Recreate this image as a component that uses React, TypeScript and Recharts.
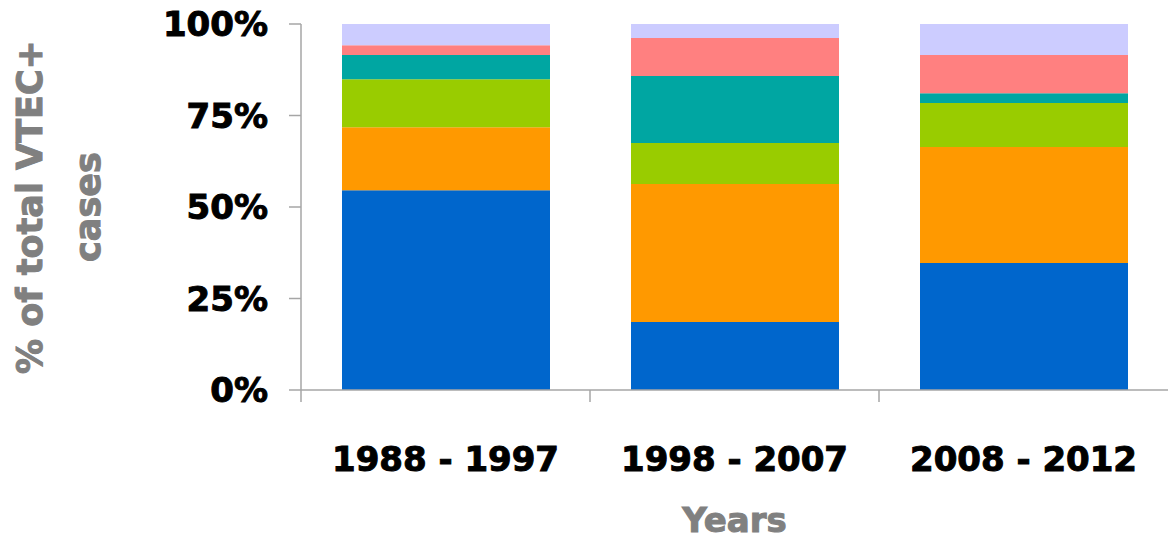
import React from "react";
import { Bar, BarChart, Label, XAxis, YAxis } from "recharts";

// share of cases per period, bottom to top of each stack (%)
const periods = ["1988 - 1997", "1998 - 2007", "2008 - 2012"];
const blueShare = [54.6, 18.6, 34.7];
const orangeShare = [17.2, 37.7, 31.7];
const greenShare = [13.1, 11.2, 12.0];
const tealShare = [6.6, 18.3, 2.7];
const pinkShare = [2.7, 10.4, 10.4];
const lilacShare = [5.8, 3.8, 8.5];
const yTicks = [0, 25, 50, 75, 100];

const chartData = periods.map((period, i) => ({
  period,
  blue: blueShare[i],
  orange: orangeShare[i],
  green: greenShare[i],
  teal: tealShare[i],
  pink: pinkShare[i],
  lilac: lilacShare[i],
}));

const series = [
  { key: "blue", color: "#0066CC" },
  { key: "orange", color: "#FF9900" },
  { key: "green", color: "#99CC00" },
  { key: "teal", color: "#00A6A2" },
  { key: "pink", color: "#FF8080" },
  { key: "lilac", color: "#CCCCFF" },
];

const FONT = "'DejaVu Sans', sans-serif";
const AXIS = "#a6a6a6";

const XTick = (props: any) => {
  const { x, y, payload, width, visibleTicksCount } = props;
  const band = width && visibleTicksCount ? width / visibleTicksCount : 289;
  const left = x - band / 2;
  return (
    <g>
      <line x1={left} x2={left} y1={y} y2={y + 12} stroke={AXIS} strokeWidth={1.5} />
      <text
        x={x}
        y={y + 81}
        textAnchor="middle"
        fill="#000"
        stroke="#000"
        strokeWidth={1}
        fontSize={34}
        fontWeight="bold"
        fontFamily={FONT}
      >
        {payload.value}
      </text>
    </g>
  );
};

const YTitle = (props: any) => {
  const { viewBox } = props;
  const cy = viewBox.y + viewBox.height / 2;
  return (
    <g fill="#808080" stroke="#808080" strokeWidth={1} fontSize={35} fontWeight="bold" fontFamily={FONT}>
      <text x={42} y={cy} textAnchor="middle" transform={`rotate(-90 42 ${cy})`}>
        % of total VTEC+
      </text>
      <text x={100} y={cy} textAnchor="middle" transform={`rotate(-90 100 ${cy})`}>
        cases
      </text>
    </g>
  );
};

const XTitle = (props: any) => {
  const { viewBox } = props;
  return (
    <text
      x={viewBox.x + viewBox.width / 2}
      y={viewBox.y + 142}
      textAnchor="middle"
      fill="#808080"
      stroke="#808080"
      strokeWidth={1}
      fontSize={34}
      fontWeight="bold"
      fontFamily={FONT}
    >
      Years
    </text>
  );
};

const App = () => {
  return (
    <div style={{ position: "absolute", left: 0, top: 0 }}>
      <BarChart
        width={1169}
        height={539}
        data={chartData}
        margin={{ top: 24, right: 1, bottom: 0, left: 0 }}
        barSize={208}
      >
        <XAxis
          dataKey="period"
          height={149}
          interval={0}
          tickSize={0}
          tickMargin={0}
          tickLine={false}
          axisLine={{ stroke: AXIS, strokeWidth: 1.5 }}
          tick={<XTick />}
        >
          <Label content={<XTitle />} />
        </XAxis>
        <YAxis
          type="number"
          width={301}
          domain={[0, 100]}
          ticks={yTicks}
          allowDataOverflow
          tickFormatter={(v) => `${v}%`}
          tickSize={12}
          tickMargin={21}
          tickLine={{ stroke: AXIS, strokeWidth: 1.5 }}
          axisLine={{ stroke: AXIS, strokeWidth: 1.5 }}
          tick={{
            fill: "#000",
            stroke: "#000",
            strokeWidth: 1,
            fontSize: 34,
            fontWeight: "bold",
            fontFamily: FONT,
          }}
        >
          <Label content={<YTitle />} />
        </YAxis>
        {series.map((s) => (
          <Bar
            key={s.key}
            dataKey={s.key}
            stackId="share"
            fill={s.color}
            isAnimationActive={false}
          />
        ))}
      </BarChart>
    </div>
  );
};

export default App;
